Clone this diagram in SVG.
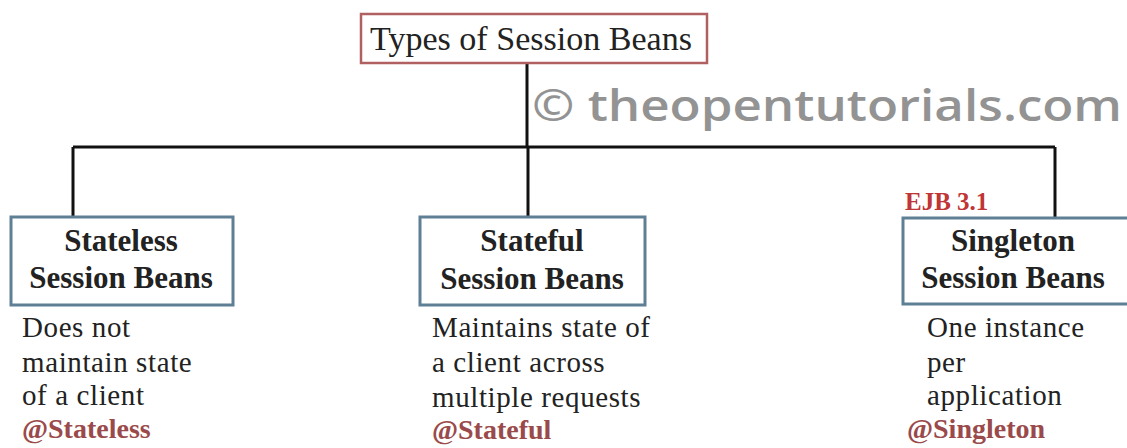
<svg xmlns="http://www.w3.org/2000/svg" width="1127" height="448" viewBox="0 0 1127 448">
<style>
.title{font-family:"Liberation Serif",serif;font-size:33px;fill:#222}
.box{fill:#fff;stroke:#5f7f95;stroke-width:3}
.head{font-family:"Liberation Serif",serif;font-weight:bold;font-size:31px;fill:#222;text-anchor:middle}
.desc{font-family:"Liberation Serif",serif;font-size:29px;letter-spacing:0.6px;fill:#222}
.ann{font-family:"Liberation Serif",serif;font-weight:bold;font-size:28px;fill:#9a4a4a}
.line{stroke:#111;stroke-width:3;fill:none}
.wm{font-family:"Open Sans",sans-serif;font-weight:600;font-size:44px;fill:#939393}
</style>
<rect width="1127" height="448" fill="#fff"/>
<text class="wm" x="532" y="121" textLength="590" lengthAdjust="spacingAndGlyphs">© theopentutorials.com</text>
<g id="connectors">
<path class="line" d="M527 63V147M73 147H1055M73 147V217M528 147V217M1055 147V218"/>
</g>
<g id="root">
<rect x="361" y="14" width="346" height="49" fill="#fff" stroke="#b06060" stroke-width="2.5"/>
<text class="title" x="370" y="50" textLength="322" lengthAdjust="spacingAndGlyphs">Types of Session Beans</text>
</g>
<g id="stateless">
<rect class="box" x="11" y="217" width="222" height="88"/>
<text class="head" x="121" y="251">Stateless</text>
<text class="head" x="121" y="288">Session Beans</text>
<text class="desc" x="22" y="337">Does not</text>
<text class="desc" x="22" y="372">maintain state</text>
<text class="desc" x="22" y="405">of a client</text>
<text class="ann" x="22" y="438">@Stateless</text>
</g>
<g id="stateful">
<rect class="box" x="420" y="217" width="225" height="88"/>
<text class="head" x="532" y="251">Stateful</text>
<text class="head" x="532" y="289">Session Beans</text>
<text class="desc" x="432" y="337">Maintains state of</text>
<text class="desc" x="432" y="372">a client across</text>
<text class="desc" x="432" y="407">multiple requests</text>
<text class="ann" x="432" y="439">@Stateful</text>
</g>
<g id="singleton">
<text class="ann" x="905" y="210" style="fill:#c03535;font-size:25px">EJB 3.1</text>
<rect class="box" x="903" y="218" width="230" height="86"/>
<text class="head" x="1013" y="251">Singleton</text>
<text class="head" x="1013" y="288">Session Beans</text>
<text class="desc" x="927" y="337">One instance</text>
<text class="desc" x="927" y="372">per</text>
<text class="desc" x="927" y="405">application</text>
<text class="ann" x="907" y="438">@Singleton</text>
</g>
</svg>
